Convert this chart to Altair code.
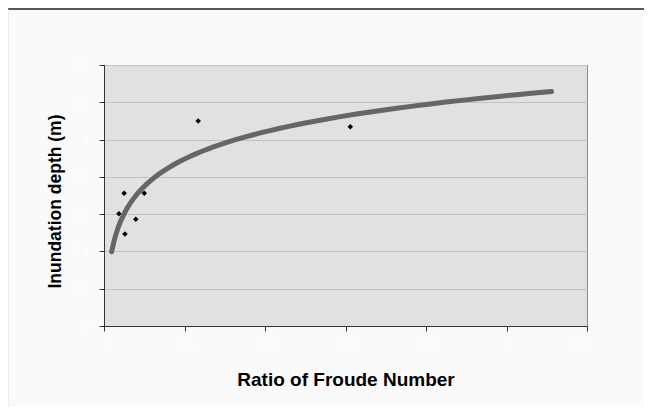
import altair as alt
import pandas as pd

# Data
froude_ratio = [0.037, 0.050, 0.052, 0.079, 0.100, 0.234, 0.612]
inundation_depth = [0.602, 0.712, 0.494, 0.572, 0.712, 1.100, 1.069]
x_ticks = [0, 0.2, 0.4, 0.6, 0.8, 1.0, 1.2]
y_ticks = [0, 0.2, 0.4, 0.6, 0.8, 1.0, 1.2, 1.4]
trend_extent = [0.019, 1.112]

df = pd.DataFrame({"ratio": froude_ratio, "depth": inundation_depth})
frame_df = pd.DataFrame({"k": [0]})

FONT = "Liberation Sans"

x_enc = alt.X(
    "ratio:Q",
    scale=alt.Scale(domain=[0, 1.2], nice=False),
    axis=alt.Axis(
        values=x_ticks,
        format=".1~f",
        title="Ratio of Froude Number",
        grid=False,
        labelOverlap=False,
        labelColor="#ffffff",
        labelFontSize=13,
        labelPadding=8,
        titleFont=FONT,
        titleFontSize=19,
        titleFontWeight="bold",
        titleColor="#000000",
        titleX=241.5,
        titleY=59,
        titleAlign="center",
        titleBaseline="alphabetic",
    ),
)
y_enc = alt.Y(
    "depth:Q",
    scale=alt.Scale(domain=[0, 1.4], nice=False),
    axis=alt.Axis(
        values=y_ticks,
        format=".1~f",
        title="Inundation depth (m)",
        grid=True,
        gridColor="#c2c2c2",
        labelOverlap=False,
        labelColor="#ffffff",
        labelFontSize=13,
        labelPadding=10,
        titleFont=FONT,
        titleFontSize=17.5,
        titleFontWeight="bold",
        titleColor="#000000",
        titleAngle=-90,
        titleX=-44,
        titleY=136,
        titleAlign="center",
        titleBaseline="alphabetic",
    ),
)

points = alt.Chart(df).mark_point(
    shape="diamond", filled=True, color="#000000", size=30, opacity=1
).encode(x=x_enc, y=y_enc)

trend = (
    alt.Chart(df)
    .transform_regression("ratio", "depth", method="log", extent=trend_extent)
    .mark_line(color="#666666", strokeWidth=5, strokeCap="round")
    .encode(x=x_enc, y=y_enc)
)

top_line = alt.Chart(frame_df).mark_rule(color="#222222", strokeWidth=1.5).encode(
    x=alt.value(-96), x2=alt.value(540), y=alt.value(-56)
)
left_line = alt.Chart(frame_df).mark_rule(color="#dddddd", strokeWidth=1).encode(
    x=alt.value(-96), y=alt.value(-56), y2=alt.value(342)
)

chart = (
    alt.layer(points, trend, top_line, left_line)
    .properties(
        width=483,
        height=261,
        autosize=alt.AutoSizeParams(type="none"),
        padding={"left": 96, "top": 57, "right": 57, "bottom": 81},
        background="#fafafa",
    )
    .configure_view(fill="#e1e1e1", stroke="#8a8a8a", strokeWidth=1)
    .configure_axis(
        domainColor="#333333",
        tickColor="#333333",
        tickSize=5,
        domainWidth=1,
        tickWidth=1,
    )
)

chart.save("out.html", embed_options={"renderer": "svg", "actions": False})
